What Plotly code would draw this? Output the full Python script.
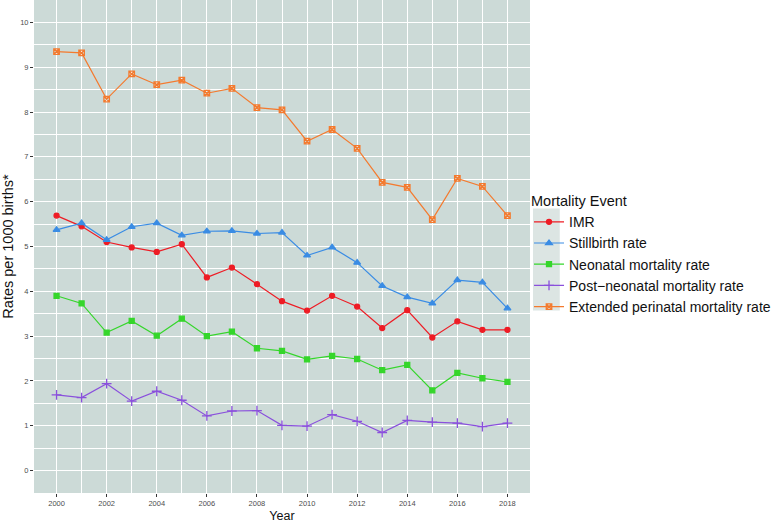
import plotly.graph_objects as go

years = list(range(2000, 2019))
imr = [5.69, 5.45, 5.10, 4.98, 4.88, 5.05, 4.31, 4.53, 4.16, 3.78, 3.57, 3.90, 3.66, 3.18, 3.58, 2.97, 3.33, 3.14, 3.14]
stillbirth = [5.37, 5.52, 5.15, 5.44, 5.52, 5.25, 5.34, 5.35, 5.29, 5.31, 4.80, 4.98, 4.64, 4.12, 3.87, 3.73, 4.25, 4.20, 3.62]
neonatal = [3.90, 3.73, 3.08, 3.34, 3.01, 3.39, 3.00, 3.10, 2.73, 2.67, 2.48, 2.56, 2.49, 2.24, 2.36, 1.79, 2.18, 2.06, 1.98]
postneonatal = [1.69, 1.63, 1.94, 1.55, 1.77, 1.57, 1.22, 1.33, 1.34, 1.01, 0.99, 1.25, 1.10, 0.85, 1.12, 1.08, 1.06, 0.98, 1.06]
extended = [9.35, 9.32, 8.29, 8.85, 8.61, 8.71, 8.42, 8.53, 8.10, 8.05, 7.35, 7.61, 7.19, 6.43, 6.32, 5.60, 6.52, 6.34, 5.69]

series = [
    ("IMR", imr, "#EE1C25", "circle", 5),
    ("Stillbirth rate", stillbirth, "#3A8CE4", "triangle-up", 6),
    ("Neonatal mortality rate", neonatal, "#35D62B", "square", 5),
    ("Post\u2212neonatal mortality rate", postneonatal, "#8A50DC", "cross-thin-open", 7),
    ("Extended perinatal mortality rate", extended, "#F47A2E", "square-x-open", 5.5),
]

fig = go.Figure()
for name, vals, color, sym, size in series:
    fig.add_trace(go.Scatter(
        x=years, y=vals, name=name, mode="lines+markers",
        line=dict(color=color, width=1.2),
        marker=dict(symbol=sym, size=size, color=color,
                    line=dict(color=color, width=1.3)),
    ))

font_family = "Liberation Sans, Arial, sans-serif"
fig.update_layout(
    width=778, height=527,
    margin=dict(l=34, r=248, t=0, b=34, autoexpand=False),
    paper_bgcolor="white",
    plot_bgcolor="#CCDAD7",
    font=dict(family=font_family, color="#222222"),
    showlegend=True,
    legend=dict(
        title=dict(text="Mortality Event", font=dict(size=14.5, color="#111111")),
        font=dict(size=14, color="#111111"),
        x=0.998, xanchor="left", y=0.62, yanchor="top",
        bgcolor="rgba(0,0,0,0)", tracegroupgap=0, itemwidth=30,
    ),
    shapes=[dict(type="rect", xref="paper", yref="paper",
                 x0=1.006, x1=1.060, y0=0.370, y1=0.577,
                 fillcolor="#DCE5E3", line=dict(width=0), layer="below")],
)
fig.update_xaxes(
    range=[1999.1, 2018.9], tickmode="linear", tick0=2000, dtick=2,
    showgrid=True, gridcolor="white", gridwidth=1.1,
    minor=dict(dtick=1, showgrid=True, gridcolor="white", gridwidth=0.55),
    ticks="outside", ticklen=3, tickcolor="#333333", tickwidth=1,
    tickfont=dict(size=7.5, color="#4D4D4D"),
    title=dict(text="Year", font=dict(size=12.5, color="#111111"), standoff=4),
    zeroline=False, showline=False, automargin=False,
)
fig.update_yaxes(
    range=[-0.5, 10.5], tickmode="linear", tick0=0, dtick=1,
    showgrid=True, gridcolor="white", gridwidth=1.1,
    minor=dict(dtick=0.5, showgrid=True, gridcolor="white", gridwidth=0.55),
    ticks="outside", ticklen=3, tickcolor="#333333", tickwidth=1,
    tickfont=dict(size=7.5, color="#4D4D4D"),
    title=dict(text="Rates per 1000 births*", font=dict(size=14.5, color="#111111"), standoff=3),
    zeroline=False, showline=False, automargin=False,
)
fig.write_html("out.html", config={"displayModeBar": False},
               post_script="document.body.style.margin='0';")
